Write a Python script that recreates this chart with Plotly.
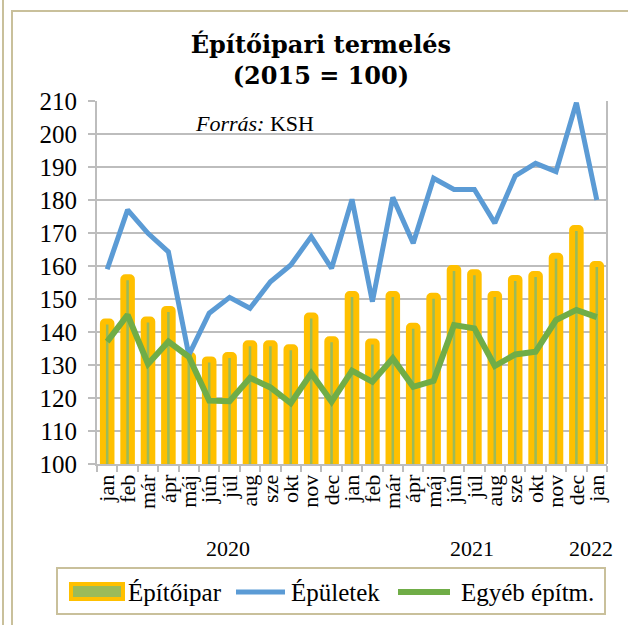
import plotly.graph_objects as go

# data
months = ["jan", "feb", "már", "ápr", "máj", "jún", "júl", "aug", "sze", "okt", "nov", "dec",
          "jan", "feb", "már", "ápr", "máj", "jún", "júl", "aug", "sze", "okt", "nov", "dec",
          "jan"]
years = ["2020", "2021", "2022"]
year_pos = [5.9, 17.9, 23.7]

epitoipar = [143.2, 156.6, 143.8, 147.0, 133.0, 131.7, 133.0, 136.6, 136.6, 135.4, 145.0, 137.8,
             151.5, 137.1, 151.5, 141.9, 151.0, 159.4, 158.1, 151.5, 156.4, 157.6, 163.1, 171.5,
             160.6]
epuletek = [159.0, 177.0, 169.9, 164.3, 133.0, 145.7, 150.5, 147.2, 155.2, 160.3, 168.9, 159.3,
            180.2, 149.2, 180.8, 166.9, 186.6, 183.2, 183.2, 173.0, 187.3, 191.1, 188.6, 209.5,
            180.0]
egyeb = [137.1, 145.2, 130.3, 137.1, 132.5, 119.2, 119.0, 126.1, 123.2, 118.4, 127.5, 118.9,
         128.3, 124.9, 132.0, 123.4, 125.2, 142.1, 141.1, 129.7, 133.2, 134.0, 143.6, 146.7,
         144.5]

YELLOW = "#FFC000"
OLIVE = "#9BBB59"
BLUE = "#5B9BD5"
GREEN = "#70AD47"
TAN = "#C9C09B"
GRID = "#BDBDBD"
SERIF = "Liberation Serif, Times New Roman, serif"
TITLE_FONT = "DejaVu Serif, serif"

W, H = 628, 625
L, R, T, B = 97, 607, 101, 464


def px(x):
    return (x - L) / (R - L)


def py(y):
    return (B - y) / (B - T)


xs = list(range(len(months)))

fig = go.Figure()

fig.add_trace(go.Bar(
    x=xs, y=epitoipar, width=0.42,
    marker=dict(color=OLIVE, line=dict(color=YELLOW, width=6), cornerradius=2),
    showlegend=False, hoverinfo="skip"
))
fig.add_trace(go.Scatter(
    x=xs, y=epuletek, mode="lines",
    line=dict(color=BLUE, width=5),
    showlegend=False
))
fig.add_trace(go.Scatter(
    x=xs, y=egyeb, mode="lines",
    line=dict(color=GREEN, width=6),
    showlegend=False
))

shapes = []
# outer frame
shapes.append(dict(type="line", xref="paper", yref="paper",
                   x0=px(3), x1=px(3), y0=py(-10), y1=py(640),
                   line=dict(color=TAN, width=2)))
shapes.append(dict(type="rect", xref="paper", yref="paper",
                   x0=px(12), x1=px(645), y0=py(11), y1=py(645),
                   line=dict(color=TAN, width=2)))
# right border of plot area
shapes.append(dict(type="line", xref="paper", yref="paper",
                   x0=1, x1=1, y0=0, y1=1, line=dict(color=GRID, width=2)))

# legend box
shapes.append(dict(type="rect", xref="paper", yref="paper",
                   x0=px(57), x1=px(605), y0=py(568), y1=py(614),
                   line=dict(color=TAN, width=2), fillcolor="white"))
shapes.append(dict(type="rect", xref="paper", yref="paper",
                   x0=px(71), x1=px(123), y0=py(584), y1=py(599),
                   line=dict(color=YELLOW, width=4), fillcolor=OLIVE))
shapes.append(dict(type="line", xref="paper", yref="paper",
                   x0=px(236), x1=px(285), y0=py(592), y1=py(592),
                   line=dict(color=BLUE, width=5)))
shapes.append(dict(type="line", xref="paper", yref="paper",
                   x0=px(398), x1=px(450), y0=py(592), y1=py(592),
                   line=dict(color=GREEN, width=6)))

annotations = []
for txt, x0 in [("Építőipar", 126), ("Épületek", 289), ("Egyéb építm.", 459)]:
    annotations.append(dict(text=txt, xref="paper", yref="paper", x=px(x0), y=py(592),
                            xanchor="left", yanchor="middle", showarrow=False,
                            font=dict(family=SERIF, size=25, color="black")))

for yr, pos in zip(years, year_pos):
    annotations.append(dict(text=yr, xref="x", yref="paper", x=pos, y=py(548),
                            xanchor="center", yanchor="middle", showarrow=False,
                            font=dict(family=SERIF, size=22, color="black")))

annotations.append(dict(text="<i>Forrás:</i> KSH", xref="paper", yref="paper",
                        x=px(193), y=py(124), xanchor="left", yanchor="middle",
                        showarrow=False, font=dict(family=SERIF, size=22, color="black")))

fig.update_layout(
    width=W, height=H,
    margin=dict(l=L, r=W - R, t=T, b=H - B),
    paper_bgcolor="white", plot_bgcolor="white",
    title=dict(text="<b>Építőipari termelés<br>(2015 = 100)</b>",
               x=0.511, xanchor="center", y=1 - 53 / H, yanchor="middle",
               font=dict(family=TITLE_FONT, size=24, color="black")),
    showlegend=False,
    bargap=0.5,
    shapes=shapes,
    annotations=annotations,
    xaxis=dict(
        range=[-0.5, len(months) - 0.5],
        tickmode="array", tickvals=xs, ticktext=months, tickangle=-90,
        ticks="", showgrid=False,
        showline=True, linecolor=GRID, linewidth=2,
        tickfont=dict(family=SERIF, size=22, color="black"),
        minor=dict(tickvals=[i - 0.5 for i in range(len(months) + 1)],
                   ticks="outside", ticklen=6, tickwidth=2, tickcolor=GRID, showgrid=False),
        zeroline=False,
    ),
    yaxis=dict(
        range=[100, 210], dtick=10, tick0=100,
        showgrid=True, gridcolor=GRID, gridwidth=2,
        showline=True, linecolor=GRID, linewidth=2,
        ticks="outside", ticklen=7, tickwidth=2, tickcolor=GRID,
        ticklabelstandoff=6,
        tickfont=dict(family=SERIF, size=25, color="black"),
        zeroline=False,
    ),
)

# page body has an 8px default margin; drop it so the figure sits at the window origin
fig.write_html("out.html", config={"displayModeBar": False},
               post_script="document.body.style.margin='0';")
